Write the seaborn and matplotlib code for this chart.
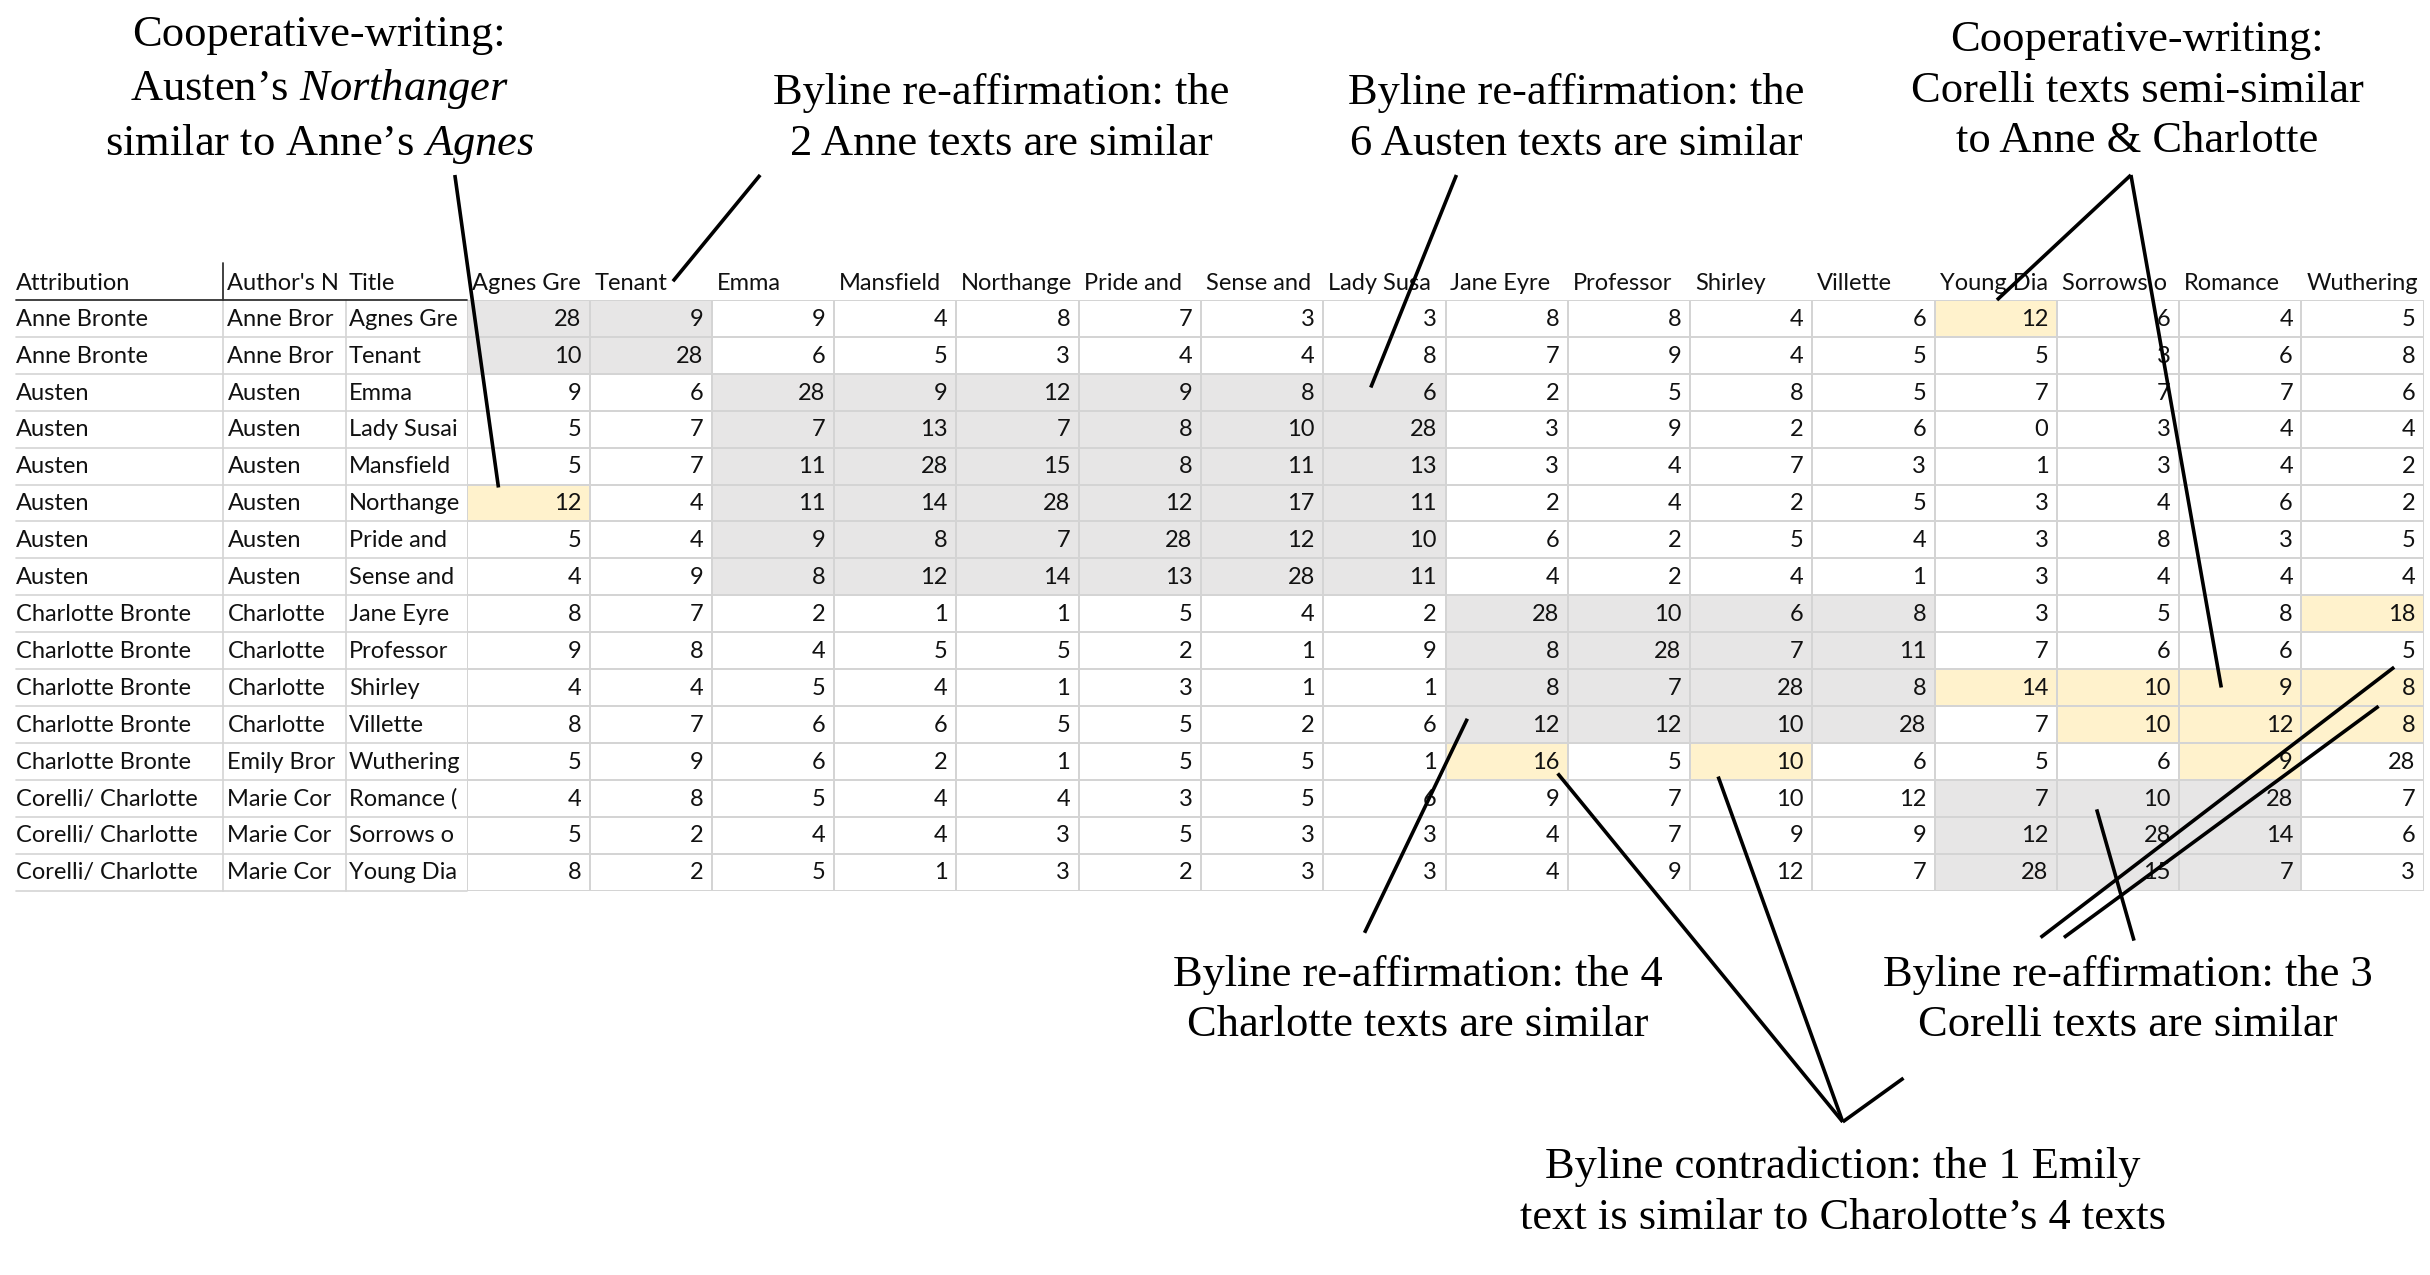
import matplotlib
matplotlib.use("Agg")
import matplotlib.pyplot as plt
import numpy as np
import seaborn as sns
from matplotlib.colors import ListedColormap

attribution = ["Anne Bronte"] * 2 + ["Austen"] * 6 + ["Charlotte Bronte"] * 5 + ["Corelli/ Charlotte"] * 3
authors = ["Anne Bror"] * 2 + ["Austen"] * 6 + ["Charlotte"] * 4 + ["Emily Bror"] + ["Marie Cor"] * 3
titles = ["Agnes Gre", "Tenant", "Emma", "Lady Susai", "Mansfield", "Northange", "Pride and",
          "Sense and", "Jane Eyre", "Professor", "Shirley", "Villette", "Wuthering",
          "Romance (", "Sorrows o", "Young Dia"]
col_heads = ["Agnes Gre", "Tenant", "Emma", "Mansfield", "Northange", "Pride and", "Sense and",
             "Lady Susa", "Jane Eyre", "Professor", "Shirley", "Villette", "Young Dia",
             "Sorrows o", "Romance", "Wuthering"]
scores = [
    [28, 9, 9, 4, 8, 7, 3, 3, 8, 8, 4, 6, 12, 6, 4, 5],
    [10, 28, 6, 5, 3, 4, 4, 8, 7, 9, 4, 5, 5, 3, 6, 8],
    [9, 6, 28, 9, 12, 9, 8, 6, 2, 5, 8, 5, 7, 7, 7, 6],
    [5, 7, 7, 13, 7, 8, 10, 28, 3, 9, 2, 6, 0, 3, 4, 4],
    [5, 7, 11, 28, 15, 8, 11, 13, 3, 4, 7, 3, 1, 3, 4, 2],
    [12, 4, 11, 14, 28, 12, 17, 11, 2, 4, 2, 5, 3, 4, 6, 2],
    [5, 4, 9, 8, 7, 28, 12, 10, 6, 2, 5, 4, 3, 8, 3, 5],
    [4, 9, 8, 12, 14, 13, 28, 11, 4, 2, 4, 1, 3, 4, 4, 4],
    [8, 7, 2, 1, 1, 5, 4, 2, 28, 10, 6, 8, 3, 5, 8, 18],
    [9, 8, 4, 5, 5, 2, 1, 9, 8, 28, 7, 11, 7, 6, 6, 5],
    [4, 4, 5, 4, 1, 3, 1, 1, 8, 7, 28, 8, 14, 10, 9, 8],
    [8, 7, 6, 6, 5, 5, 2, 6, 12, 12, 10, 28, 7, 10, 12, 8],
    [5, 9, 6, 2, 1, 5, 5, 1, 16, 5, 10, 6, 5, 6, 9, 28],
    [4, 8, 5, 4, 4, 3, 5, 6, 9, 7, 10, 12, 7, 10, 28, 7],
    [5, 2, 4, 4, 3, 5, 3, 3, 4, 7, 9, 9, 12, 28, 14, 6],
    [8, 2, 5, 1, 3, 2, 3, 3, 4, 9, 12, 7, 28, 15, 7, 3],
]
# 0 = none, 1 = grey block (byline groups), 2 = yellow highlight
gray_blocks = [(0, 2, 0, 2), (2, 8, 2, 8), (8, 12, 8, 12), (13, 16, 12, 15)]
yellow_cells = [(0, 12), (5, 0), (8, 15), (10, 12), (10, 13), (10, 14), (10, 15),
                (11, 13), (11, 14), (11, 15), (12, 8), (12, 10), (12, 14)]

shade = np.zeros((16, 16), dtype=int)
for r0, r1, c0, c1 in gray_blocks:
    shade[r0:r1, c0:c1] = 1
for r, c in yellow_cells:
    shade[r, c] = 2

sns.set_style("white")
plt.rcParams["mathtext.fontset"] = "custom"
plt.rcParams["mathtext.rm"] = "Liberation Serif"
plt.rcParams["mathtext.it"] = "Liberation Serif:italic"

W, H = 1560, 816  # layout units
fig = plt.figure(figsize=(24.3, 12.75), dpi=100)
tx0, tx1, ty0, ty1 = 300, 1556, 192, 570
hax = fig.add_axes([tx0 / W, 1 - ty1 / H, (tx1 - tx0) / W, (ty1 - ty0) / H])
sns.heatmap(shade, cmap=ListedColormap(["white", "#e7e6e6", "#fff2cc"]), vmin=-0.5, vmax=2.5,
            cbar=False, ax=hax, linewidths=1.2, linecolor="#d4d4d4")
hax.set_xticks([]); hax.set_yticks([])
cw = (tx1 - tx0) / 16
tfont = dict(family="Lato", fontsize=17, color="#111111")
for i in range(16):
    for j in range(16):
        hax.text(j + 0.93, i + 0.52, str(scores[i][j]), ha="right", va="center", **tfont)
    for x, s in [((10 - tx0) / cw, attribution[i]), ((146 - tx0) / cw, authors[i]),
                 ((224 - tx0) / cw, titles[i])]:
        hax.text(x, i + 0.52, s, ha="left", va="center", clip_on=False, **tfont)
    hax.plot([(10 - tx0) / cw, 0], [i + 1, i + 1], color="#d4d4d4", lw=1.2, clip_on=False)
for j, s in enumerate(col_heads):
    hax.text(j + 0.04, -0.45, s, ha="left", va="center", clip_on=False, **tfont)
for xb in [143, 222]:
    hax.plot([(xb - tx0) / cw] * 2, [0, 16], color="#d4d4d4", lw=1.2, clip_on=False)
for x, s in [((10 - tx0) / cw, "Attribution"), ((146 - tx0) / cw, "Author's N"),
             ((224 - tx0) / cw, "Title")]:
    hax.text(x, -0.45, s, ha="left", va="center", clip_on=False, **tfont)
hax.plot([(10 - tx0) / cw, 0], [0, 0], color="#333333", lw=1.3, clip_on=False)
hax.plot([(143 - tx0) / cw] * 2, [-1, 0], color="#333333", lw=1.3, clip_on=False)

# annotation overlay in layout units
ax = fig.add_axes([0, 0, 1, 1], facecolor="none")
ax.set_xlim(0, W); ax.set_ylim(H, 0); ax.axis("off")
afont = dict(family="Liberation Serif", fontsize=32, color="black", ha="center", va="center",
             linespacing=1.35)
notes = [
    (205, 58, "Cooperative-writing:\nAusten’s $\\mathit{Northanger}$\nsimilar to Anne’s $\\mathit{Agnes}$"),
    (643, 76, "Byline re-affirmation: the\n2 Anne texts are similar"),
    (1012, 76, "Byline re-affirmation: the\n6 Austen texts are similar"),
    (1372, 58, "Cooperative-writing:\nCorelli texts semi-similar\nto Anne & Charlotte"),
    (910, 640, "Byline re-affirmation: the 4\nCharlotte texts are similar"),
    (1366, 640, "Byline re-affirmation: the 3\nCorelli texts are similar"),
    (1183, 763, "Byline contradiction: the 1 Emily\ntext is similar to Charolotte’s 4 texts"),
]
for x, y, s in notes:
    ax.text(x, y, s, **afont)
leaders = [
    ((292, 112), (320, 312)), ((488, 112), (432, 180)), ((935, 112), (880, 248)),
    ((1368, 112), (1282, 192)), ((1368, 112), (1426, 440)), ((876, 597), (942, 460)),
    ((1370, 602), (1346, 518)), ((1310, 600), (1537, 427)), ((1325, 600), (1527, 452)),
    ((1183, 718), (1000, 495)), ((1183, 718), (1103, 497)), ((1183, 718), (1222, 690)),
]
for (xa, ya), (xb, yb) in leaders:
    ax.plot([xa, xb], [ya, yb], color="black", lw=2.6, solid_capstyle="butt")

fig.savefig("out.png", dpi=100)
